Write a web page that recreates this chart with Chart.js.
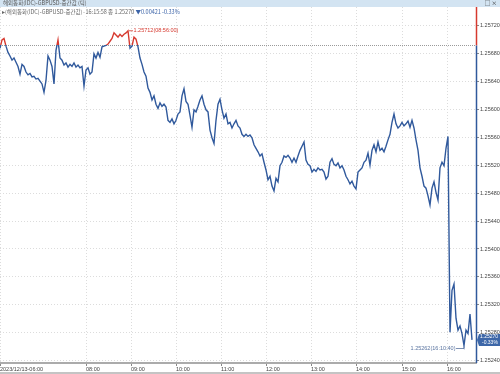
<!DOCTYPE html>
<html>
<head>
<meta charset="utf-8">
<script src="https://cdn.jsdelivr.net/npm/chart.js@4"></script>
<style>
  body { margin: 0; background: #fff; width: 500px; height: 374px; overflow: hidden; position: relative; }
  #titleBar { position: absolute; left: 0; top: 0; width: 500px; height: 7px; background: #d3e4f2; font: 5.5px "Noto Sans CJK KR", sans-serif; color: #555; line-height: 7px; }
  #titleBar span.t { position: absolute; left: 3px; top: 0; }
  #titleBar span.ic { position: absolute; right: 3px; top: 0; color: #333; }
  #legendLine { position: absolute; left: 2px; top: 8px; font: 5.5px "Noto Sans CJK KR", sans-serif; color: #666; white-space: nowrap; }
  #legendLine .chg { color: #3c64a8; }
  #bottomBand { position: absolute; left: 0; top: 372px; width: 500px; height: 2px; background: #c4c4c4; }
  canvas { position: absolute; left: 0; top: 0; }
</style>
</head>
<body>
<canvas id="myChart" width="500" height="374"></canvas>
<div id="titleBar"><span class="t">해외통화(IDC)-GBPUSD-중간값 (틱)</span><span class="ic">□ ×</span></div>
<div id="legendLine">▸(해외통화(IDC)-GBPUSD-중간값)·16:15:58 종 1.25270 <span class="chg">▼0.00421 -0.33%</span></div>
<div id="bottomBand"></div>
<script>
// tick-by-tick mid price, GBPUSD 2023/12/13
var prices = [
    1.25687, 1.25699, 1.25701, 1.25690, 1.25681, 1.25676, 1.25670, 1.25673, 1.25667, 1.25661,
    1.25650, 1.25664, 1.25661, 1.25653, 1.25649, 1.25651, 1.25646, 1.25647, 1.25643, 1.25644,
    1.25640, 1.25636, 1.25624, 1.25641, 1.25676, 1.25670, 1.25661, 1.25636, 1.25684, 1.25699,
    1.25673, 1.25670, 1.25663, 1.25666, 1.25660, 1.25664, 1.25661, 1.25666, 1.25660, 1.25663,
    1.25659, 1.25661, 1.25633, 1.25656, 1.25659, 1.25650, 1.25653, 1.25679, 1.25673, 1.25681,
    1.25674, 1.25689, 1.25690, 1.25691, 1.25693, 1.25697, 1.25701, 1.25709, 1.25706, 1.25703,
    1.25707, 1.25704, 1.25707, 1.25709, 1.25712, 1.25687, 1.25690, 1.25703, 1.25700, 1.25689,
    1.25673, 1.25664, 1.25653, 1.25647, 1.25630, 1.25624, 1.25613, 1.25619, 1.25607, 1.25601,
    1.25609, 1.25604, 1.25607, 1.25603, 1.25584, 1.25581, 1.25586, 1.25579, 1.25584, 1.25593,
    1.25596, 1.25619, 1.25629, 1.25611, 1.25607, 1.25591, 1.25574, 1.25599, 1.25596, 1.25604,
    1.25613, 1.25619, 1.25607, 1.25599, 1.25596, 1.25570, 1.25559, 1.25551, 1.25584, 1.25607,
    1.25614, 1.25599, 1.25587, 1.25593, 1.25579, 1.25581, 1.25573, 1.25579, 1.25584, 1.25576,
    1.25573, 1.25564, 1.25561, 1.25564, 1.25561, 1.25563, 1.25559, 1.25549, 1.25544, 1.25539,
    1.25533, 1.25536, 1.25524, 1.25513, 1.25499, 1.25504, 1.25490, 1.25483, 1.25501, 1.25496,
    1.25519, 1.25524, 1.25533, 1.25531, 1.25534, 1.25530, 1.25524, 1.25530, 1.25524, 1.25533,
    1.25541, 1.25547, 1.25553, 1.25527, 1.25521, 1.25519, 1.25510, 1.25514, 1.25511, 1.25516,
    1.25513, 1.25514, 1.25510, 1.25500, 1.25504, 1.25524, 1.25529, 1.25521, 1.25519, 1.25523,
    1.25516, 1.25519, 1.25513, 1.25504, 1.25499, 1.25493, 1.25497, 1.25490, 1.25486, 1.25510,
    1.25513, 1.25516, 1.25524, 1.25527, 1.25537, 1.25520, 1.25541, 1.25549, 1.25539, 1.25553,
    1.25541, 1.25544, 1.25539, 1.25547, 1.25556, 1.25564, 1.25581, 1.25593, 1.25579, 1.25573,
    1.25576, 1.25581, 1.25576, 1.25579, 1.25583, 1.25574, 1.25584, 1.25573, 1.25556, 1.25541,
    1.25516, 1.25504, 1.25490, 1.25487, 1.25476, 1.25463, 1.25487, 1.25496, 1.25481, 1.25470,
    1.25516, 1.25524, 1.25519, 1.25544, 1.25561, 1.25281, 1.25341, 1.25350, 1.25301, 1.25284,
    1.25290, 1.25279, 1.25262, 1.25284, 1.25279, 1.25307, 1.25270
];
// tick index where each hour label sits
var hourTickIdx = [0, 43, 65.5, 88, 110.5, 133, 155.5, 178, 201, 223.5];
var hourLabels = ['2023/12/13-06:00', '08:00', '09:00', '10:00', '11:00', '12:00', '13:00', '14:00', '15:00', '16:00'];
var prevClose = 1.25691;
var lastPrice = 1.25270;
var lastChangePct = '-0.33%';
var highLabel = '1.25712(08:56:00)';
var lowLabel = '1.25262(16:10:40)';

var upColor = '#d6392f';
var downColor = '#30599c';

function splitColor(context) {
    const chart = context.chart;
    const area = chart.chartArea;
    if (!area) return downColor;
    const y = chart.scales.y.getPixelForValue(prevClose);
    const stop = Math.min(1, Math.max(0, (y - area.top) / (area.bottom - area.top)));
    const g = chart.ctx.createLinearGradient(0, area.top, 0, area.bottom);
    g.addColorStop(0, upColor);
    g.addColorStop(stop, upColor);
    g.addColorStop(stop, downColor);
    g.addColorStop(1, downColor);
    return g;
}

const overlays = {
    id: 'overlays',
    beforeDatasetsDraw(chart) {
        const ctx = chart.ctx;
        const area = chart.chartArea;
        const y = Math.round(chart.scales.y.getPixelForValue(prevClose)) + 0.5;
        ctx.save();
        ctx.strokeStyle = '#9a9a9a';
        ctx.lineWidth = 1;
        ctx.setLineDash([1, 1]);
        ctx.beginPath();
        ctx.moveTo(area.left, y);
        ctx.lineTo(area.right, y);
        ctx.stroke();
        ctx.restore();
    },
    afterDraw(chart) {
        const ctx = chart.ctx;
        const area = chart.chartArea;
        const xs = chart.scales.x, ys = chart.scales.y;
        const yPrev = ys.getPixelForValue(prevClose);
        const axisX = area.right + 0.5;

        ctx.save();
        // right axis line, red above previous close, blue below
        ctx.lineWidth = 1.5;
        ctx.strokeStyle = upColor;
        ctx.beginPath();
        ctx.moveTo(axisX, area.top);
        ctx.lineTo(axisX, yPrev);
        ctx.stroke();
        ctx.strokeStyle = downColor;
        ctx.beginPath();
        ctx.moveTo(axisX, yPrev);
        ctx.lineTo(axisX, area.bottom);
        ctx.stroke();

        // high marker
        let hi = 0, lo = 0;
        prices.forEach((p, i) => {
            if (p > prices[hi]) hi = i;
            if (p < prices[lo]) lo = i;
        });
        ctx.lineWidth = 0.8;
        ctx.font = '5.5px "Liberation Sans", sans-serif';
        let px = xs.getPixelForValue(hi), py = ys.getPixelForValue(prices[hi]);
        ctx.strokeStyle = upColor;
        ctx.fillStyle = upColor;
        ctx.beginPath();
        ctx.moveTo(px + 1, py);
        ctx.lineTo(px + 5, py);
        ctx.stroke();
        ctx.textAlign = 'left';
        ctx.textBaseline = 'middle';
        ctx.fillText(highLabel, px + 5.5, py);

        // low marker
        px = xs.getPixelForValue(lo);
        py = ys.getPixelForValue(prices[lo]);
        ctx.strokeStyle = '#5a74a0';
        ctx.fillStyle = '#5a74a0';
        ctx.beginPath();
        ctx.moveTo(px, py + 1);
        ctx.lineTo(px, py + 3);
        ctx.lineTo(px - 8, py + 3);
        ctx.stroke();
        ctx.textAlign = 'right';
        ctx.fillText(lowLabel, px - 8.5, py + 3);

        // last price box on the axis
        const yl = ys.getPixelForValue(lastPrice);
        ctx.fillStyle = '#3d67a8';
        ctx.beginPath();
        ctx.moveTo(area.right + 1, yl);
        ctx.lineTo(area.right + 3, yl - 6);
        ctx.lineTo(500, yl - 6);
        ctx.lineTo(500, yl + 6);
        ctx.lineTo(area.right + 3, yl + 6);
        ctx.closePath();
        ctx.fill();
        ctx.fillStyle = '#fff';
        ctx.textAlign = 'left';
        ctx.font = '5px "Liberation Sans", sans-serif';
        ctx.fillText(lastPrice.toFixed(5), area.right + 4, yl - 2.8);
        ctx.fillText(lastChangePct, area.right + 6, yl + 2.8);
        ctx.restore();
    }
};

const ctx = document.getElementById('myChart').getContext('2d');
new Chart(ctx, {
    type: 'line',
    data: {
        datasets: [{
            data: prices.map((p, i) => ({ x: i, y: p })),
            borderColor: splitColor,
            borderWidth: 1.4,
            pointRadius: 0,
            tension: 0,
            fill: false
        }]
    },
    options: {
        responsive: false,
        animation: false,
        events: [],
        layout: { padding: { top: 7, right: 0, bottom: 2, left: 0 } },
        plugins: { legend: { display: false }, tooltip: { enabled: false } },
        scales: {
            x: {
                type: 'linear',
                min: 0,
                max: 238,
                afterBuildTicks: s => { s.ticks = hourTickIdx.map(v => ({ value: v })); },
                afterFit: s => { s.height = 9; },
                ticks: {
                    autoSkip: false,
                    maxRotation: 0,
                    align: 'start',
                    padding: 0,
                    color: '#444',
                    font: { size: 5.5, family: '"Liberation Sans", sans-serif' },
                    callback: v => hourLabels[hourTickIdx.indexOf(v)]
                },
                grid: { color: '#dcdcdc', tickColor: '#888', tickLength: 3 },
                border: { display: true, color: '#ababab', width: 2, dash: [1, 2] }
            },
            y: {
                position: 'right',
                min: 1.25237,
                max: 1.25746,
                afterFit: s => { s.width = 24; },
                ticks: {
                    stepSize: 0.0004,
                    includeBounds: false,
                    padding: 1,
                    color: '#444',
                    font: { size: 5.5, family: '"Liberation Sans", sans-serif' },
                    callback: v => v.toFixed(5)
                },
                grid: { color: '#dcdcdc', tickColor: '#888', tickLength: 3 },
                border: { display: false, dash: [1, 2] }
            }
        }
    },
    plugins: [overlays]
});
</script>
</body>
</html>
